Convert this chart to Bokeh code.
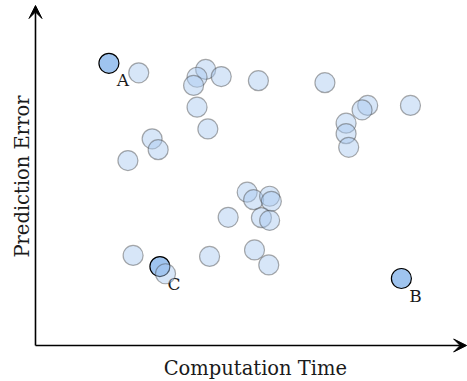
import math
from bokeh.plotting import figure
from bokeh.models import Range1d, Arrow, VeeHead, ColumnDataSource
from bokeh.core.properties import value
from bokeh.embed import file_html
from bokeh.resources import INLINE

other_time = [2.39, 3.94, 3.74, 3.66, 4.30, 3.74, 3.99, 2.70, 2.84, 2.14,
              5.16, 6.70, 7.69, 7.56, 8.68, 7.19, 7.19, 7.25,
              4.90, 5.05, 5.42, 5.46, 4.46, 5.23, 5.42, 5.07, 5.40,
              2.26, 3.01, 4.03]
other_error = [8.02, 8.12, 7.89, 7.65, 7.91, 7.01, 6.37, 6.08, 5.76, 5.44,
               7.79, 7.73, 7.06, 6.93, 7.06, 6.54, 6.23, 5.83,
               4.51, 4.29, 4.39, 4.24, 3.77, 3.76, 3.68, 2.81, 2.37,
               2.65, 2.11, 2.62]

marked_names = ["A", "C", "B"]
marked_time = [1.70, 2.88, 8.47]
marked_error = [8.30, 2.32, 1.97]

x_title = "Computation Time"
y_title = "Prediction Error"

FONT = "DejaVu Serif"
TXT = "#1a1a1a"

p = figure(width=467, height=381, output_backend="svg", toolbar_location=None,
           x_range=Range1d(-0.810, 10), y_range=Range1d(-1.059, 10.147),
           min_border_left=0, min_border_right=0, min_border_top=0,
           min_border_bottom=0)
p.grid.visible = False
p.axis.visible = False
p.outline_line_color = None
p.background_fill_color = "white"

# axes with arrowheads
p.add_layout(Arrow(end=VeeHead(size=13, fill_color="black", line_color="black"),
                   x_start=0, y_start=0, x_end=0, y_end=10,
                   line_width=1.6, line_color="black"))
p.add_layout(Arrow(end=VeeHead(size=13, fill_color="black", line_color="black"),
                   x_start=0, y_start=0, x_end=9.98, y_end=0,
                   line_width=1.6, line_color="black"))

# axis titles
p.text(x=[5.09], y=[-0.676], text=[x_title], text_align="center",
       text_baseline="alphabetic", text_font=value(FONT),
       text_font_size="19.5px", text_color=TXT)
p.text(x=[-0.30], y=[4.97], text=[y_title], angle=math.pi / 2,
       text_align="center", text_baseline="middle", text_font=value(FONT),
       text_font_size="19.5px", text_color=TXT)

marked = ColumnDataSource(dict(x=marked_time, y=marked_error, name=marked_names))
p.scatter("x", "y", source=marked, size=20, fill_color="#9fc4ef",
          line_color="black", line_width=1.2)
p.text("x", "y", text="name", source=marked, x_offset=14, y_offset=17,
       text_align="center", text_baseline="middle",
       text_font=value(FONT), text_font_size="17px", text_color=TXT)

p.scatter(other_time, other_error, size=20, fill_color="#a6c8ef",
          fill_alpha=0.45, line_color="#444444", line_alpha=0.45,
          line_width=1.2)

open("out.html", "w").write(file_html(p, INLINE))
